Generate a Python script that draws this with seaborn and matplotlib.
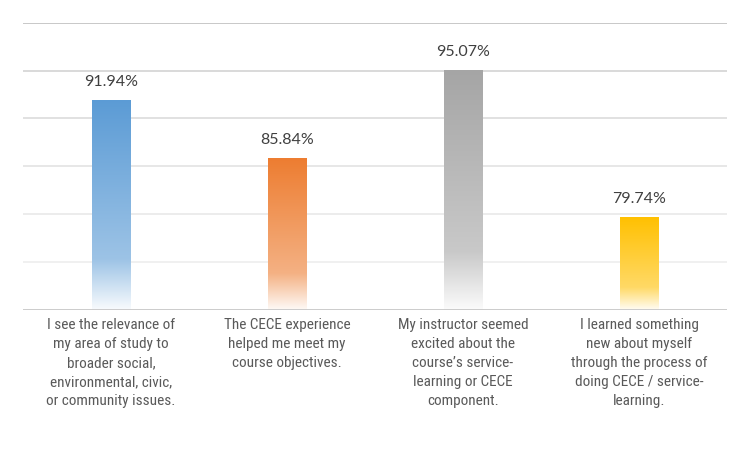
import os
import numpy as np
import pandas as pd
import seaborn as sns
import matplotlib
matplotlib.use('Agg')
import matplotlib.pyplot as plt
from matplotlib.colors import to_rgb
from matplotlib import font_manager

# data
categories = [
    "I see the relevance of\nmy area of study to\nbroader social,\nenvironmental, civic,\nor community issues.",
    "The CECE experience\nhelped me meet my\ncourse objectives.",
    "My instructor seemed\nexcited about the\ncourse\u2019s service-\nlearning or CECE\ncomponent.",
    "I learned something\nnew about myself\nthrough the process of\ndoing CECE / service-\nlearning.",
]
values = [91.94, 85.84, 95.07, 79.74]
colors = ["#5B9BD5", "#ED7D31", "#A5A5A5", "#FFC000"]
grid_levels = [75, 80, 85, 90, 95, 100]
grid_colors = ["#EDEDED", "#E9E9E9", "#E3E3E3", "#DCDCDC", "#D3D3D3", "#BFBFBF"]

sns.set_style("white")
plt.rcParams['font.family'] = ['Lato', 'DejaVu Sans']

# look for a narrow/condensed face for the category labels (Calibri-like)
def find_narrow():
    files = font_manager.findSystemFonts()
    wanted = ["RobotoCondensed-Regular", "LiberationSansNarrow-Regular",
              "DejaVuSansCondensed.ttf"]
    for w in wanted:
        for f in files:
            if w in os.path.basename(f):
                return f
    return None

narrow_path = find_narrow()
if narrow_path:
    label_font = font_manager.FontProperties(fname=narrow_path, size=11)
else:
    label_font = font_manager.FontProperties(family='Lato', size=10.5)

df = pd.DataFrame({"item": categories, "pct": values})

fig = plt.figure(figsize=(7.5, 4.5), dpi=100)
ax = fig.add_axes([23 / 750, 1 - 310 / 450, 704 / 750, 287.3 / 450])

sns.barplot(data=df, x="item", y="pct", hue="item", palette=colors,
            width=0.22, legend=False, ax=ax)

YMIN, YMAX = 70, 100

# gradient fill: full colour at top, lighter tint, then fade to white at the bottom
def gradient_rgba(base, n=256):
    r, g, b = to_rgb(base)
    t = np.linspace(0, 1, n)
    w = np.interp(t, [0, 0.76, 1.0], [0.0, 0.40, 0.96])
    arr = np.zeros((n, 1, 4))
    arr[:, 0, 0] = r + (1 - r) * w
    arr[:, 0, 1] = g + (1 - g) * w
    arr[:, 0, 2] = b + (1 - b) * w
    arr[:, 0, 3] = 1
    return arr

for patch, col in zip(ax.patches, colors):
    x0 = patch.get_x()
    x1 = x0 + patch.get_width()
    top = patch.get_height()
    img = ax.imshow(gradient_rgba(col), extent=(x0, x1, YMIN, top),
                    aspect='auto', origin='upper', zorder=3)
    img.set_clip_path(patch)
    patch.set_facecolor('none')
    patch.set_edgecolor('none')
    ax.annotate(f"{top:.2f}%", (x0 + patch.get_width() / 2, top),
                xytext=(0, 8), textcoords='offset points',
                ha='center', va='bottom', fontsize=11.5, color='#404040')

for lvl, gc in zip(grid_levels, grid_colors):
    ax.axhline(lvl, color=gc, linewidth=1.2, zorder=1)
ax.axhline(YMIN, color='#C8C8C8', linewidth=1.3, zorder=4)

ax.set_xlim(-0.5, len(categories) - 0.5)
ax.set_ylim(YMIN, YMAX)
ax.set_yticks([])
ax.set_xlabel("")
ax.set_ylabel("")
for s in ax.spines.values():
    s.set_visible(False)
ax.tick_params(axis='x', length=0, pad=6, labelcolor='#595959')
for lbl in ax.get_xticklabels():
    lbl.set_fontproperties(label_font)
    lbl.set_multialignment('center')
    lbl.set_linespacing(1.45)

fig.savefig("out.png", dpi=100, facecolor='white')
